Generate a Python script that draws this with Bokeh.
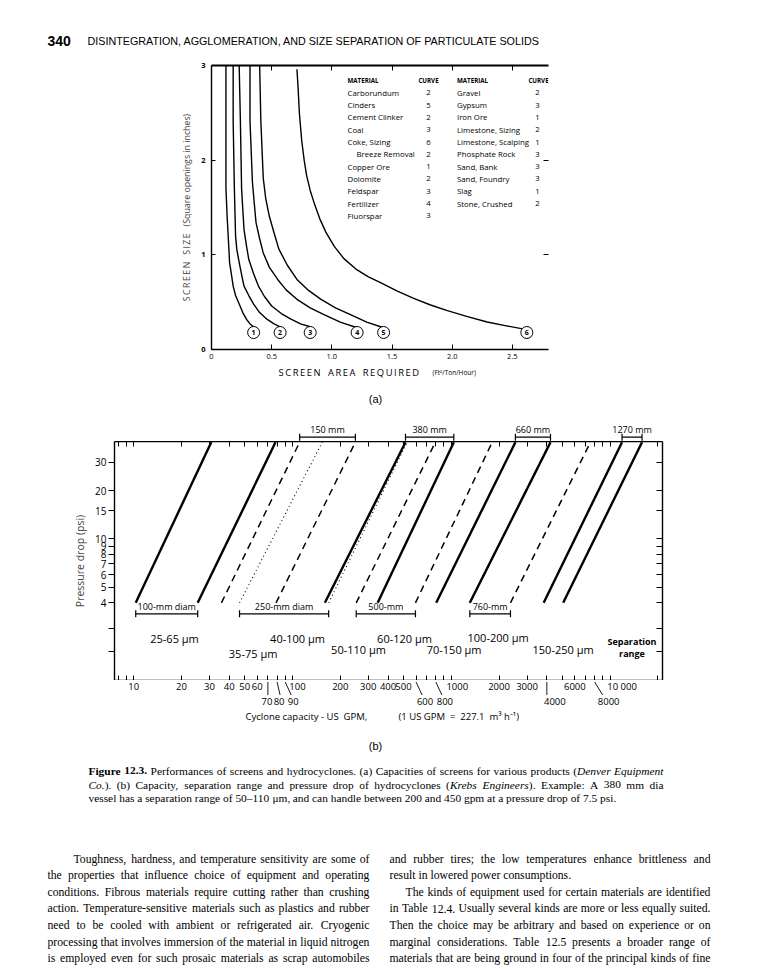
import math
from bokeh.plotting import figure
from bokeh.layouts import column
from bokeh.models import Range1d, FixedTicker, LinearAxis, LogAxis, LogScale
from bokeh.embed import file_html
from bokeh.resources import INLINE
from bokeh.core.properties import value

# ================= DATA : (a) screen capacities =================
curve_names = ["1", "2", "3", "4", "5", "6"]
curve1_area = [0.12, 0.12, 0.12, 0.13, 0.14, 0.145, 0.15, 0.165, 0.18, 0.20, 0.23, 0.26, 0.29, 0.32, 0.35]
curve1_size = [3.00, 2.41, 1.70, 1.40, 1.17, 1.05, 0.92, 0.80, 0.67, 0.57, 0.48, 0.39, 0.32, 0.27, 0.24]
curve2_area = [0.18, 0.18, 0.19, 0.195, 0.20, 0.21, 0.23, 0.25, 0.27, 0.31, 0.35, 0.40, 0.46, 0.52, 0.57]
curve2_size = [3.00, 2.41, 1.70, 1.45, 1.20, 1.06, 0.92, 0.79, 0.67, 0.57, 0.48, 0.39, 0.32, 0.27, 0.24]
curve3_area = [0.23, 0.24, 0.25, 0.26, 0.27, 0.29, 0.31, 0.35, 0.39, 0.44, 0.50, 0.58, 0.66, 0.74, 0.82]
curve3_size = [3.00, 2.41, 1.70, 1.48, 1.27, 1.10, 0.95, 0.80, 0.67, 0.56, 0.46, 0.38, 0.32, 0.27, 0.24]
curve4_area = [0.32, 0.32, 0.34, 0.355, 0.37, 0.40, 0.43, 0.48, 0.55, 0.62, 0.71, 0.82, 0.93, 1.07, 1.21]
curve4_size = [3.00, 2.41, 1.77, 1.55, 1.34, 1.17, 1.02, 0.87, 0.74, 0.63, 0.53, 0.44, 0.37, 0.29, 0.23]
curve5_area = [0.40, 0.41, 0.43, 0.45, 0.48, 0.52, 0.56, 0.63, 0.71, 0.80, 0.91, 1.03, 1.15, 1.29, 1.43]
curve5_size = [3.00, 2.41, 1.81, 1.60, 1.41, 1.23, 1.06, 0.89, 0.74, 0.63, 0.53, 0.44, 0.37, 0.29, 0.23]
curve6_area = [0.71, 0.72, 0.73, 0.75, 0.77, 0.79, 0.82, 0.86, 0.90, 0.95, 1.02, 1.10, 1.20,
               1.30, 1.40, 1.54, 1.68, 1.82, 1.96, 2.12, 2.29, 2.45, 2.62]
curve6_size = [2.96, 2.75, 2.50, 2.20, 2.00, 1.84, 1.68, 1.52, 1.38, 1.24, 1.09, 0.96, 0.85,
               0.77, 0.71, 0.62, 0.54, 0.47, 0.41, 0.35, 0.29, 0.25, 0.21]

materials_left = ["Carborundum", "Cinders", "Cement Clinker", "Coal", "Coke, Sizing",
                  "Breeze Removal", "Copper Ore", "Dolomite", "Feldspar", "Fertilizer", "Fluorspar"]
curve_left = ["2", "5", "2", "3", "6", "2", "1", "2", "3", "4", "3"]
materials_right = ["Gravel", "Gypsum", "Iron Ore", "Limestone, Sizing", "Limestone, Scalping",
                   "Phosphate Rock", "Sand, Bank", "Sand, Foundry", "Slag", "Stone, Crushed"]
curve_right = ["2", "3", "1", "2", "1", "3", "3", "3", "1", "2"]

a_x_ticks = [0, 0.5, 1.0, 1.5, 2.0, 2.5]
a_x_tick_labels = ["0", "0.5", "1.0", "1.5", "2.0", "2.5"]
a_y_ticks = [0, 1, 2, 3]

# ================= DATA : (b) hydrocyclones =================
diam_mm = [100, 150, 250, 380, 500, 660, 760, 1270]
gpm_min_4psi = [10.3, 35.7, 46.4, 160, 252, 804, 1309, 3820]
gpm_max_4psi = [25.3, 78.8, 169, 344, 595, 1309, 2360, 5070]
gpm_min_40psi = [30.8, 111, 154, 515, 794, 2535, 4217, 11900]
gpm_max_40psi = [78.2, 249, 527, 1038, 1811, 4217, 7530, 15900]
psi_low = 4
psi_high = 40
sep_range = ["25-65 \u03bcm", "35-75 \u03bcm", "40-100 \u03bcm", "50-110 \u03bcm",
             "60-120 \u03bcm", "70-150 \u03bcm", "100-200 \u03bcm", "150-250 \u03bcm"]
top_bar_sizes = [150, 380, 660, 1270]
top_bar_text = ["150 mm", "380 mm", "660 mm", "1270 mm"]
bottom_bar_sizes = [100, 250, 500, 760]
bottom_bar_text = ["100-mm diam", "250-mm diam", "500-mm", "760-mm"]

b_y_ticks = [2, 2.75, 4, 5, 6, 7, 8, 9, 10, 15, 20, 30]
b_y_tick_labels = ["", "", "4", "5", "6", "7", "8", "9", "10", "15", "20", "30"]
b_x_ticks = [8, 9] + [k * 10 ** e for e in (1, 2, 3) for k in range(1, 10)] + [10000, 20000]
row1_values = [10, 20, 30, 40, 50, 60, 100, 200, 300, 400, 500, 1000, 2000, 3000, 6000, 10000]
row1_labels = ["10", "20", "30", "40", "50", "60", "100", "200", "300", "400", "500",
               "1000", "2000", "3000", "6000", "10\u00a0000"]
row2_values = [70, 80, 90, 600, 800, 4000, 8000]
row2_labels = ["70", "80", "90", "600", "800", "4000", "8000"]

# ================= TEXT =================
NB = "\u00a0"
header_num = "340"
header_text = "DISINTEGRATION, AGGLOMERATION, AND SIZE SEPARATION OF PARTICULATE SOLIDS"
caption_lines = [
    [("Figure 12.3.", "bold"),
     (" Performances of screens and hydrocyclones. (a) Capacities of screens for various products (", "normal"),
     ("Denver Equipment", "italic")],
    [("Co.", "italic"),
     ("). (b) Capacity, separation range and pressure drop of hydrocyclones (", "normal"),
     ("Krebs Engineers", "italic"),
     ("). Example: A 380 mm dia", "normal")],
    [("vessel has a separation range of 50\u2013110 \u03bcm, and can handle between 200 and 450 gpm at a pressure drop of 7.5 psi.", "normal")],
]
caption_justify = [True, True, False]
body_left = [
    "Toughness, hardness, and temperature sensitivity are some of",
    "the properties that influence choice of equipment and operating",
    "conditions. Fibrous materials require cutting rather than crushing",
    "action. Temperature-sensitive materials such as plastics and rubber",
    "need to be cooled with ambient or refrigerated air. Cryogenic",
    "processing that involves immersion of the material in liquid nitrogen",
    "is employed even for such prosaic materials as scrap automobiles"]
body_right = [
    "and rubber tires; the low temperatures enhance brittleness and",
    "result in lowered power consumptions.",
    "The kinds of equipment used for certain materials are identified",
    "in Table 12.4. Usually several kinds are more or less equally suited.",
    "Then the choice may be arbitrary and based on experience or on",
    "marginal considerations. Table 12.5 presents a broader range of",
    "materials that are being ground in four of the principal kinds of fine"]

# ================= LAYOUT CONSTANTS =================
W = 758
SANS = "Open Sans"
HSANS = "Liberation Sans"
SERIF = "Liberation Serif"

# (a) frame in page px: x 211..548 , y 65..349
def ax(px):
    return (px - 211) / (337 / 2.8)

def ay(py):
    return (349 - py) / (284 / 3.0)

# (b) frame in page px: x 114..662 , y 441..680
B_X0, B_X1 = 7.57, 21400.0
B_Y0, B_Y1 = 1.314, 40.4
B_SPAN = math.log10(B_X1 / B_X0)

def bx(px):
    return 10 ** (math.log10(B_X0) + (px - 114) / 548 * B_SPAN)

def by(py):
    return 10 ** (math.log10(B_Y0) + (680 - py) / 239 * math.log10(B_Y1 / B_Y0))

def shift(xv, dpx):
    return xv * 10 ** (dpx / 548 * B_SPAN)


def txt(p, xs, ys, texts, size, font=SANS, align="left", baseline="middle",
        style="normal", angle=0, x_offset=0, y_offset=0):
    p.text(x=xs, y=ys, text=texts, text_font=value(font), text_font_size=size,
           text_align=align, text_baseline=baseline, text_font_style=style,
           text_color="black", angle=angle, x_offset=x_offset, y_offset=y_offset)


def clean(p):
    p.outline_line_color = None
    p.grid.visible = False
    p.background_fill_color = "white"
    p.border_fill_color = "white"


def text_fig(h):
    p = figure(width=W, height=h, x_range=Range1d(0, W), y_range=Range1d(h, 0),
               output_backend="svg", toolbar_location=None, min_border=0,
               x_axis_location=None, y_axis_location=None, frame_align=False)
    clean(p)
    return p


def logx_fig(h, xr):
    p = figure(width=W, height=h, x_range=xr, y_range=Range1d(h, 0),
               x_axis_type="log", output_backend="svg", toolbar_location=None,
               min_border_left=114, min_border_right=96, min_border_top=0,
               min_border_bottom=0, x_axis_location=None, y_axis_location=None,
               frame_align=False)
    p.x_scale = LogScale()
    clean(p)
    return p


def style_axis(a, ticks, tin, tout, fsize, lw=1.4, standoff=3, font=SANS, bold=False,
               labels=True):
    a.ticker = FixedTicker(ticks=ticks)
    a.major_tick_in = tin
    a.major_tick_out = tout
    a.minor_tick_in = 0
    a.minor_tick_out = 0
    a.axis_line_width = lw
    a.major_tick_line_width = 1
    a.major_label_text_font = font
    a.major_label_text_font_size = fsize
    a.major_label_standoff = standoff
    a.major_label_text_color = "black" if labels else None
    a.axis_line_color = "black"
    a.major_tick_line_color = "black"
    if bold:
        a.major_label_text_font_style = "bold"


# ---- Times (Liberation Serif) advance widths, 1/1000 em, for justified setting ----
TR = {" ": 250, "!": 333, "(": 333, ")": 333, ",": 250, "-": 333, ".": 250, ":": 278,
      ";": 278, "?": 444, "\u2013": 500, "\u03bc": 500}
TR.update({c: 500 for c in "0123456789"})
TR.update(dict(zip("ABCDEFGHIJKLMNOPQRSTUVWXYZ",
                   [722, 667, 667, 722, 611, 556, 722, 722, 333, 389, 722, 611, 889, 722,
                    722, 556, 722, 667, 556, 611, 722, 722, 944, 722, 722, 611])))
TR.update(dict(zip("abcdefghijklmnopqrstuvwxyz",
                   [444, 500, 444, 500, 444, 333, 500, 500, 278, 278, 500, 278, 778, 500,
                    500, 500, 500, 333, 389, 278, 500, 500, 722, 500, 500, 444])))
TI = dict(TR)
TI.update(dict(zip("abcdefghijklmnopqrstuvwxyz",
                   [500, 500, 444, 500, 444, 278, 500, 500, 278, 278, 444, 278, 722, 500,
                    500, 500, 500, 389, 389, 278, 500, 444, 667, 444, 444, 389])))
TI.update({"C": 667, "D": 722, "E": 611, "K": 667})
TB = dict(TR)
TB.update({"F": 611, "u": 556, "r": 444, "i": 278, "g": 500, "e": 444})
TABLES = {"normal": TR, "italic": TI, "bold": TB}


def wid(s, style, size):
    t = TABLES[style]
    return sum(t.get(ch, 500) for ch in s) * size / 1000.0


def tokens_of(runs):
    toks = []
    pending = False
    for text, style in runs:
        for ch in text:
            if ch == " ":
                pending = True
                continue
            if toks and not pending and toks[-1][1] == style:
                toks[-1][0] += ch
            else:
                toks.append([ch, style, pending and bool(toks)])
            pending = False
    return toks


def set_line(p, runs, x0, x1, y, size, justify):
    toks = tokens_of(runs)
    widths = [wid(t[0], t[1], size) for t in toks]
    nsp = sum(1 for t in toks if t[2])
    space = 0.25 * size
    natural = sum(widths) + nsp * space
    extra = (x1 - x0 - natural) / nsp if (justify and nsp) else 0.0
    extra = max(extra, -0.35 * space)
    x = x0
    groups = {}
    for (t, st, sp), w in zip(toks, widths):
        if sp:
            x += space + extra
        g = groups.setdefault(st, ([], []))
        g[0].append(x)
        g[1].append(t)
        x += w
    base = y + 0.3 * size
    for st, (xs, ts) in groups.items():
        txt(p, xs, [base] * len(xs), ts, f"{size}px", font=SERIF, style=st,
            baseline="alphabetic")


# ---------------- header ----------------
ph = text_fig(58)
txt(ph, [47], [40], [header_num], "14px", font=HSANS, style="bold")
txt(ph, [87], [40], [header_text], "10.75px", font=HSANS)

# ---------------- figure (a) ----------------
pa = figure(width=W, height=304, x_range=Range1d(0, 2.8), y_range=Range1d(0, 3.0),
            output_backend="svg", toolbar_location=None, frame_align=False,
            min_border_left=211, min_border_right=210, min_border_top=7, min_border_bottom=13)
clean(pa)
xa = pa.xaxis[0]
style_axis(xa, a_x_ticks, 5, 0, "7.5px", standoff=4)
xa.major_label_overrides = dict(zip(a_x_ticks, a_x_tick_labels))
ya = pa.yaxis[0]
style_axis(ya, a_y_ticks, 4, 0, "7.5px", standoff=6, bold=True)
ya.axis_label = ("\u2009".join("SCREEN") + NB * 3 + "\u2009".join("SIZE")
                 + NB * 3 + "(Square openings in inches)")
ya.axis_label_text_font = SANS
ya.axis_label_text_font_size = "8.8px"
ya.axis_label_text_font_style = "normal"
ya.axis_label_standoff = 5
top_a = LinearAxis()
style_axis(top_a, a_x_ticks[1:], 5, 0, "1px", lw=1.8, standoff=0, labels=False)
pa.add_layout(top_a, "above")
right_a = LinearAxis()
style_axis(right_a, [1, 2], 5, 0, "1px", standoff=0, labels=False)
right_a.axis_line_color = None
pa.add_layout(right_a, "right")

curves_x = [curve1_area, curve2_area, curve3_area, curve4_area, curve5_area, curve6_area]
curves_y = [curve1_size, curve2_size, curve3_size, curve4_size, curve5_size, curve6_size]
for cx, cy in zip(curves_x, curves_y):
    pa.line(cx, cy, line_color="black", line_width=1.4, line_join="round")

end_x = [c[-1] for c in curves_x]
label_y = [ay(332)] * len(end_x)
pa.scatter(end_x, label_y, marker="circle", size=12, fill_color="white",
           line_color="black", line_width=1)
txt(pa, end_x, label_y, curve_names, "7px", align="center", style="bold")

# table in (a)
row_y = [ay(92.3 + 12.3 * i) for i in range(len(materials_left))]
txt(pa, [ax(347)], [ay(80)], ["MATERIAL"], "6.2px", style="bold")
txt(pa, [ax(428)], [ay(80)], ["CURVE"], "6.2px", align="center", style="bold")
txt(pa, [ax(456.5)], [ay(80)], ["MATERIAL"], "6.2px", style="bold")
txt(pa, [ax(538)], [ay(80)], ["CURVE"], "6.2px", align="center", style="bold")
left_x = [ax(347 + (9 if m == "Breeze Removal" else 0)) for m in materials_left]
txt(pa, left_x, row_y, materials_left, "7.8px")
txt(pa, [ax(428)] * len(curve_left), row_y, curve_left, "7.8px", align="center")
txt(pa, [ax(456.5)] * len(materials_right), row_y[:len(materials_right)], materials_right, "7.8px")
txt(pa, [ax(537)] * len(curve_right), row_y[:len(curve_right)], curve_right, "7.8px", align="center")

# ---------------- under (a) ----------------
pu = text_fig(53)
spaced = (NB * 3).join("\u2009".join(w) for w in ["SCREEN", "AREA", "REQUIRED"])
txt(pu, [278], [9.7], [spaced], "9.4px")
txt(pu, [432], [9.7], ["(Ft\u00b2/Ton/Hour)"], "6.5px")
txt(pu, [375], [36], ["(a)"], "11px", font=HSANS, align="center")

# ---------------- figure (b) ----------------
pb = figure(width=W, height=239, x_axis_type="log", y_axis_type="log",
            x_range=Range1d(B_X0, B_X1), y_range=Range1d(B_Y0, B_Y1),
            output_backend="svg", toolbar_location=None, frame_align=False,
            min_border_left=114, min_border_right=96, min_border_top=0, min_border_bottom=0)
clean(pb)
xb = pb.xaxis[0]
style_axis(xb, b_x_ticks, 5, 0, "1px", standoff=0, labels=False)
yb = pb.yaxis[0]
style_axis(yb, b_y_ticks, 0, 6, "10px", standoff=2)
yb.major_label_overrides = dict(zip(b_y_ticks, b_y_tick_labels))
yb.axis_label = "Pressure drop (psi)"
yb.axis_label_text_font = SANS
yb.axis_label_text_font_size = "10.5px"
yb.axis_label_text_font_style = "normal"
yb.axis_label_standoff = 5
top_b = LogAxis()
style_axis(top_b, b_x_ticks, 5, 0, "1px", standoff=0, labels=False)
pb.add_layout(top_b, "above")
right_b = LogAxis()
style_axis(right_b, b_y_ticks, 6, 0, "1px", standoff=0, labels=False)
pb.add_layout(right_b, "right")

line_style = {"solid": (None, 2.4), "dashed": ("7 5", 1.5), "dotted": ("1 3", 1.1)}
diam_style = ["solid", "dashed", "dotted", "solid", "dashed", "solid", "dashed", "solid"]
for i in range(len(diam_mm)):
    dash, lw = line_style[diam_style[i]]
    for lo, hi in ((gpm_min_4psi[i], gpm_min_40psi[i]), (gpm_max_4psi[i], gpm_max_40psi[i])):
        kw = dict(line_color="black", line_width=lw)
        if dash:
            kw["line_dash"] = dash
        pb.line([lo, hi], [psi_low, psi_high], **kw)

# bottom dimension bars (inside frame, below 4 psi)
bar_psi = by(613.3)
bx0 = [gpm_min_4psi[diam_mm.index(d)] for d in bottom_bar_sizes]
bx1 = [gpm_max_4psi[diam_mm.index(d)] for d in bottom_bar_sizes]
pb.segment(bx0, [bar_psi] * 4, bx1, [bar_psi] * 4, line_color="black", line_width=1.2)
pb.scatter(bx0 + bx1, [bar_psi] * 8, marker="dash", angle=math.pi / 2, size=7,
           line_color="black", line_width=1.2)
bmid = [math.sqrt(a * b) for a, b in zip(bx0, bx1)]
txt(pb, bmid, [bar_psi] * 4, bottom_bar_text, "9px", align="center", baseline="bottom", y_offset=-1)

# separation ranges
sep_px = [(174, 638), (252.6, 652.5), (297, 637.5), (358, 648.5), (404, 637.5),
          (453.6, 648.5), (497.6, 637), (562.6, 648.5)]
txt(pb, [bx(p[0]) for p in sep_px], [by(p[1]) for p in sep_px], sep_range, "11px", align="center")
txt(pb, [bx(631.5), bx(631.5)], [by(641), by(653)], ["Separation", "range"], "9px",
    align="center", style="bold")

# ---------------- above (b): top dimension bars ----------------
pt = logx_fig(26, pb.x_range)
tx0 = [gpm_min_40psi[diam_mm.index(d)] for d in top_bar_sizes]
tx1 = [gpm_max_40psi[diam_mm.index(d)] for d in top_bar_sizes]
pt.segment(tx0, [21.7] * 4, tx1, [21.7] * 4, line_color="black", line_width=1.2)
pt.scatter(tx0 + tx1, [21.7] * 8, marker="dash", angle=math.pi / 2, size=7,
           line_color="black", line_width=1.2)
tmid = [math.sqrt(a * b) for a, b in zip(tx0, tx1)]
txt(pt, tmid, [20] * 4, top_bar_text, "9px", align="center", baseline="bottom")

# ---------------- below (b): capacity tick labels ----------------
pl = logx_fig(75, pb.x_range)
row1_dx = [0, 0, 0, 0, 0, 0, 5, 0, 0, 0, 0, 6, 0, 0, 0, 12]
txt(pl, row1_values, [5.5] * len(row1_values), row1_labels, "9.5px", align="center",
    x_offset=row1_dx)
row2_lead = [0, 3, 6, 6, 6, 0, 8]
row2_dx = [-1, 2, 8, 9, 9, 8, 14]
pl.segment(row2_values, [1.5] * 7, [shift(v, d) for v, d in zip(row2_values, row2_lead)],
           [14.5] * 7, line_color="black", line_width=0.9)
txt(pl, [shift(v, d) for v, d in zip(row2_values, row2_dx)], [21] * 7, row2_labels,
    "9.5px", align="center")
txt(pl, [bx(245)], [35.5], ["Cyclone capacity - US" + NB * 2 + "GPM,"], "9.5px")
txt(pl, [bx(398)], [35.5], ["(1 US GPM" + NB * 2 + "=" + NB * 2 + "227.1" + NB * 2
                            + "m\u00b3 h\u207b\u00b9)"], "9.5px")
txt(pl, [bx(375)], [65], ["(b)"], "11px", font=HSANS, align="center")

# ---------------- caption + body ----------------
pc = text_fig(213)
cap_y = [12, 26, 39.5]
for runs, y, j in zip(caption_lines, cap_y, caption_justify):
    set_line(pc, runs, 88, 663, y, 11.4, j)

BODY_SIZE = 11.7
BODY_Y0, BODY_DY = 100, 16.6
for i, line in enumerate(body_left):
    x0 = 47 + (26 if i == 0 else 0)
    set_line(pc, [(line, "normal")], x0, 369, BODY_Y0 + BODY_DY * i, BODY_SIZE, True)
right_just = [True, False, True, True, True, True, True]
for i, line in enumerate(body_right):
    x0 = 389 + (16 if i == 2 else 0)
    set_line(pc, [(line, "normal")], x0, 710, BODY_Y0 + BODY_DY * i, BODY_SIZE, right_just[i])

layout = column(ph, pa, pu, pt, pb, pl, pc, spacing=0)
open("out.html", "w").write(file_html(layout, INLINE))
